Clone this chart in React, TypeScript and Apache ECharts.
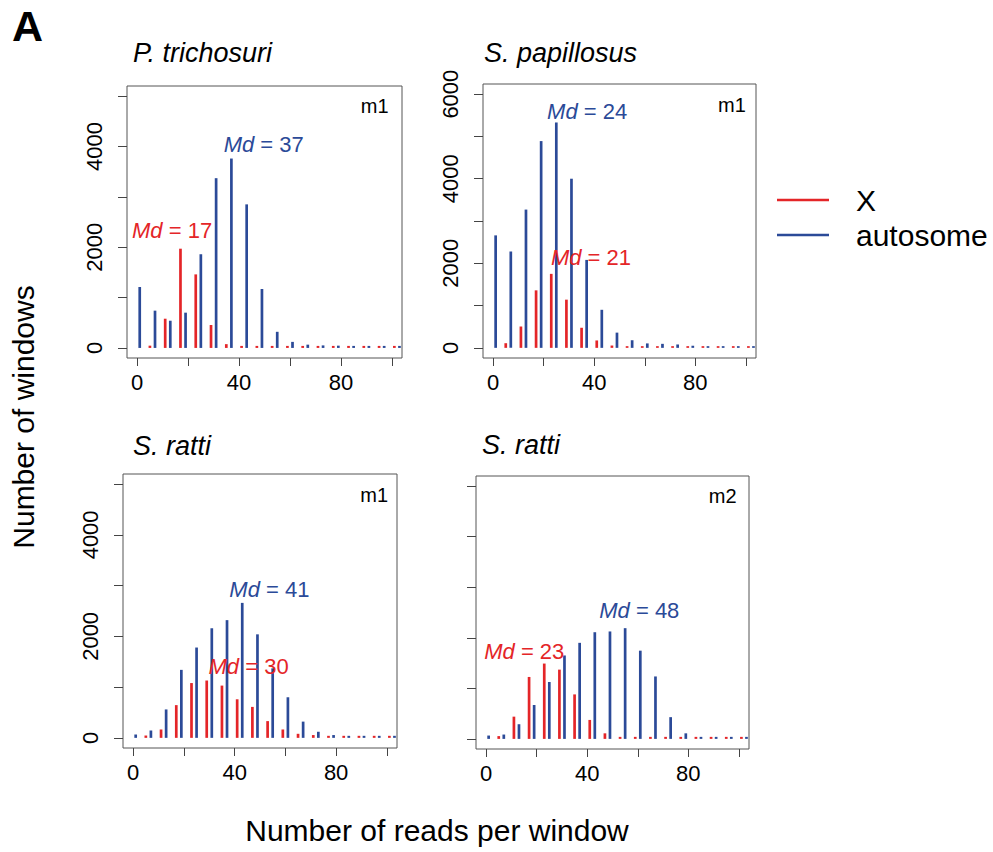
import React, { useEffect, useRef } from 'react';
import * as echarts from 'echarts';

// bin positions (reads per window)
const autoBins = [1, 7, 13, 19, 25, 31, 37, 43, 49, 55, 61, 67, 73, 79, 85, 91, 97, 103];
const xBins = [5, 11, 17, 23, 29, 35, 41, 47, 53, 59, 65, 71, 77, 83, 89, 95, 101];

const panelTitles = ['P. trichosuri', 'S. papillosus', 'S. ratti', 'S. ratti'];
const panelTags = ['m1', 'm1', 'm1', 'm2'];
const xMedians = [17, 21, 30, 23];
const autoMedians = [37, 24, 41, 48];

// counts (number of windows)
const auto1 = [1210, 740, 540, 700, 1860, 3370, 3760, 2850, 1170, 320, 120, 65, 50, 45, 40, 40, 40, 40];
const x1 = [45, 580, 1970, 1460, 455, 75, 40, 40, 40, 40, 40, 40, 40, 40, 40, 40, 40];
const auto2 = [2660, 2280, 3270, 4890, 5330, 4000, 2080, 900, 360, 180, 105, 95, 80, 50, 40, 40, 40, 40];
const x2 = [110, 505, 1360, 1750, 1140, 475, 175, 55, 40, 40, 40, 40, 40, 40, 40, 40, 40];
const auto3 = [66, 145, 560, 1340, 1780, 2160, 2320, 2660, 2040, 1370, 800, 320, 120, 55, 40, 40, 40, 40];
const x3 = [46, 165, 645, 1080, 1130, 1030, 760, 610, 330, 165, 80, 55, 40, 40, 40, 40, 40];
const auto4 = [66, 86, 290, 670, 1125, 1650, 1900, 2110, 2125, 2190, 1745, 1235, 430, 110, 40, 40, 40, 40];
const x4 = [55, 440, 1225, 1490, 1370, 880, 375, 110, 40, 40, 40, 40, 40, 40, 40, 40, 40];

const xTicks = [0, 20, 40, 60, 80, 100];
const xTickLabels = [0, 40, 80];
const yTicks5 = [0, 1000, 2000, 3000, 4000, 5000];
const yTickLabels5 = [0, 2000, 4000];
const yTicks6 = [0, 1000, 2000, 3000, 4000, 5000, 6000];
const yTickLabels6 = [0, 2000, 4000, 6000];

const RED = '#E42528';
const BLUE = '#2B4A98';
const FONT = '"Liberation Sans", Arial, Helvetica, sans-serif';

const autoCounts = [auto1, auto2, auto3, auto4];
const xCounts = [x1, x2, x3, x4];

// layout
const grids = [
  { left: 127, top: 86, width: 275, height: 272 },
  { left: 483, top: 84, width: 273, height: 274 },
  { left: 123, top: 474, width: 274, height: 274 },
  { left: 476, top: 476, width: 273, height: 273 },
];
const yRanges = [
  [-200, 5200],
  [-240, 6240],
  [-200, 5200],
  [-200, 5200],
];
const titlePos = [
  [133, 53],
  [484, 53],
  [133, 446],
  [482, 445],
];
// label anchors in data units
const autoLabelAt = [
  [49.7, 4030],
  [37.2, 5586],
  [53.7, 2925],
  [60.6, 2535],
];
const xLabelAt = [
  [13.7, 2329],
  [38.7, 2139],
  [45.5, 1412],
  [15.1, 1723],
];
const tagAt = [
  [93.3, 4794],
  [94.5, 5755],
  [95, 4779],
  [93.6, 4797],
];

function mdPoint(at: number[], text: string, color: string, size = 22) {
  return {
    coord: at,
    symbol: 'rect',
    symbolSize: 1,
    itemStyle: { color: 'transparent' },
    label: {
      show: true,
      position: 'inside',
      formatter: text,
      color,
      fontSize: size,
      fontFamily: FONT,
      rich: {
        i: { fontStyle: 'italic', fontSize: size, fontFamily: FONT, color },
      },
    },
  };
}

export default function App() {
  const ref = useRef<HTMLDivElement>(null);
  useEffect(() => {
    if (!ref.current) return;
    const chart = echarts.init(ref.current, undefined, { renderer: 'svg' });
    const xAxes: any[] = [];
    const yAxes: any[] = [];
    const series: any[] = [];
    const graphics: any[] = [];
    for (let i = 0; i < 4; i++) {
      xAxes.push({
        type: 'value',
        gridIndex: i,
        min: -4,
        max: 104,
        axisLine: { show: false, onZero: false },
        splitLine: { show: false },
        axisTick: { show: true, length: 8, customValues: xTicks, lineStyle: { color: '#444', width: 1 } },
        axisLabel: {
          show: true,
          customValues: xTickLabels,
          fontSize: 22,
          fontFamily: FONT,
          color: '#000',
          margin: 13,
          formatter: (v: number) => String(v),
        },
      });
      const six = i === 1;
      yAxes.push({
        type: 'value',
        gridIndex: i,
        min: yRanges[i][0],
        max: yRanges[i][1],
        axisLine: { show: false, onZero: false },
        splitLine: { show: false },
        axisTick: { show: true, length: 9, customValues: six ? yTicks6 : yTicks5, lineStyle: { color: '#444', width: 1 } },
        axisLabel: {
          show: i !== 3,
          customValues: six ? yTickLabels6 : yTickLabels5,
          rotate: 90,
          fontSize: 22,
          fontFamily: FONT,
          color: '#000',
          margin: 22,
          formatter: (v: number) => String(v),
        },
      });
      series.push({
        type: 'bar',
        name: 'X',
        xAxisIndex: i,
        yAxisIndex: i,
        barWidth: 2.7,
        barGap: '-100%',
        itemStyle: { color: RED },
        data: xBins.map((b, j) => [b, xCounts[i][j]]),
        markPoint: {
          silent: true,
          data: [mdPoint(xLabelAt[i], '{i|Md} = ' + xMedians[i], RED)],
        },
      });
      series.push({
        type: 'bar',
        name: 'autosome',
        xAxisIndex: i,
        yAxisIndex: i,
        barWidth: 2.7,
        barGap: '-100%',
        itemStyle: { color: BLUE },
        data: autoBins.map((b, j) => [b, autoCounts[i][j]]),
        markPoint: {
          silent: true,
          data: [
            mdPoint(autoLabelAt[i], '{i|Md} = ' + autoMedians[i], BLUE),
            mdPoint(tagAt[i], panelTags[i], '#000', 20),
          ],
        },
      });
      graphics.push({
        type: 'text',
        x: titlePos[i][0],
        y: titlePos[i][1],
        style: {
          text: panelTitles[i],
          fontSize: 27,
          fontStyle: 'italic',
          fontFamily: FONT,
          fill: '#000',
          align: 'left',
          verticalAlign: 'middle',
        },
      });
    }
    graphics.push({
      type: 'text',
      x: 12,
      y: 26,
      style: { text: 'A', fontSize: 43, fontWeight: 'bold', fontFamily: FONT, fill: '#000', align: 'left', verticalAlign: 'middle' },
    });
    graphics.push({
      type: 'text',
      x: 23,
      y: 417,
      rotation: Math.PI / 2,
      style: { text: 'Number of windows', fontSize: 30, fontFamily: FONT, fill: '#000', align: 'center', verticalAlign: 'middle' },
    });
    graphics.push({
      type: 'text',
      x: 437,
      y: 830,
      style: { text: 'Number of reads per window', fontSize: 30, fontFamily: FONT, fill: '#000', align: 'center', verticalAlign: 'middle' },
    });

    chart.setOption({
      animation: false,
      backgroundColor: '#fff',
      grid: grids.map((g) => ({ ...g, show: true, borderColor: '#555', borderWidth: 1, backgroundColor: 'transparent' })),
      xAxis: xAxes,
      yAxis: yAxes,
      series,
      legend: {
        orient: 'vertical',
        left: 772,
        top: 180,
        itemWidth: 52,
        itemHeight: 2.5,
        itemGap: 5,
        icon: 'rect',
        data: ['X', 'autosome'],
        selectedMode: false,
        textStyle: { fontSize: 30, fontFamily: FONT, color: '#000', lineHeight: 30, padding: [0, 0, 0, 22] },
      },
      graphic: graphics,
    });
    return () => chart.dispose();
  }, []);
  return <div ref={ref} style={{ position: 'absolute', left: 0, top: 0, width: 993, height: 852 }} />;
}
